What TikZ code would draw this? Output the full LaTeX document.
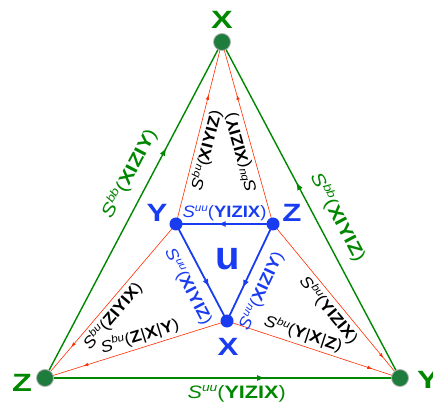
\documentclass[tikz,border=0pt]{standalone}
\usepackage{graphicx}
\usepackage{fontspec}
\setmainfont{Liberation Sans}
\usetikzlibrary{arrows.meta,decorations.markings}
\definecolor{ggreen}{RGB}{0,135,0}
\definecolor{dgreen}{RGB}{30,125,60}
\definecolor{bblue}{RGB}{25,60,240}
\definecolor{rred}{RGB}{255,45,0}
% #1 stretch, #2 size, #3 sup size, #4 sup, #5 body
\newcommand\Slab[5]{\scalebox{#1}[1]{\fontsize{#2}{#2}\selectfont\itshape S\raisebox{0.36em}{\fontsize{#3}{#3}\selectfont #4}\upshape(\textbf{#5})}}
\newcommand\Glab[2]{\Slab{1.2}{18}{11.5}{#1}{#2}}
\newcommand\Blab[2]{\Slab{1.12}{16.5}{10.5}{#1}{#2}}
\newcommand\Klab[2]{\Slab{1.12}{16}{10.5}{#1}{#2}}
\newcommand\Bar{\textmd{|}}
\tikzset{
  gline/.style={ggreen, line width=1.4pt},
  bline/.style={bblue, line width=1.8pt},
  rline/.style={rred, line width=0.6pt},
  garrow/.style={postaction={decorate,decoration={markings,mark=at position #1 with {\arrow{Latex[length=8pt,width=6pt]}}}}},
  barrow/.style={postaction={decorate,decoration={markings,mark=at position #1 with {\arrow{Latex[length=8pt,width=6pt]}}}}},
  rarrow/.style={postaction={decorate,decoration={markings,mark=at position #1 with {\arrow{Latex[length=5pt,width=3.5pt]}}}}},
  lab/.style={inner sep=2pt},
  vlab/.style={inner sep=0pt, font=\fontsize{25}{25}\selectfont\bfseries},
  gdot/.style={circle, fill=dgreen, draw=black!30, line width=0.8pt, minimum size=17pt, inner sep=0pt},
  bdot/.style={circle, fill=bblue, minimum size=13pt, inner sep=0pt},
}
\begin{document}
\begin{tikzpicture}[x=1pt,y=-1pt]
\useasboundingbox (0,0) rectangle (433,411);
\coordinate (oX) at (222,42);
\coordinate (oZ) at (45,378);
\coordinate (oY) at (400,378);
\coordinate (iY) at (176,224);
\coordinate (iZ) at (273,224);
\coordinate (iX) at (227,321);
% green outer triangle
\draw[gline, garrow=0.685] (oZ) -- (oX);
\draw[gline, garrow=0.583] (oY) -- (oX);
\draw[gline, garrow=0.62] (oZ) -- (oY);
% red connectors
\draw[rline, rarrow=0.71] (iY) -- (oX);
\draw[rline, rarrow=0.71] (iZ) -- (oX);
\draw[rline, rarrow=0.8] (iY) -- (oZ);
\draw[rline, rarrow=0.79] (iX) -- (oZ);
\draw[rline, rarrow=0.87] (iZ) -- (oY);
\draw[rline, rarrow=0.84] (iX) -- (oY);
% blue inner triangle
\draw[bline, barrow=0.57] (iZ) -- (iY);
\draw[bline, barrow=0.65] (iY) -- (iX);
\draw[bline, barrow=0.66] (iZ) -- (iX);
% dots
\node[gdot] (dX) at (oX) {};
\node[gdot] (dZ) at (oZ) {};
\node[gdot] (dY) at (oY) {};
\node[bdot] (eY) at (iY) {};
\node[bdot] (eZ) at (iZ) {};
\node[bdot] (eX) at (iX) {};
% vertex labels
\node[vlab, ggreen] (tX) at (222,20) {\scalebox{1.3}[1]{X}};
\node[vlab, ggreen] (tZ) at (22,383) {\scalebox{1.3}[1]{Z}};
\node[vlab, ggreen] (tY) at (428,380) {\scalebox{1.3}[1]{Y}};
\node[vlab, bblue] (sY) at (157,213) {\scalebox{1.25}[1]{Y}};
\node[vlab, bblue] (sZ) at (292,213) {\scalebox{1.25}[1]{Z}};
\node[vlab, bblue] (sX) at (228,347) {\scalebox{1.25}[1]{X}};
\node[inner sep=0pt, bblue, font=\fontsize{40}{40}\selectfont\bfseries] (u) at (228,259) {u};
% green labels
\path (oZ) -- (oX) node[lab, ggreen, pos=0.58, sloped, above=9pt] (l1) {\Glab{bb}{XIZIY}};
\path (oX) -- (oY) node[lab, ggreen, pos=0.55, sloped, above=9pt] (l2) {\Glab{bb}{XIYIZ}};
\path (oZ) -- (oY) node[lab, ggreen, pos=0.54, below=5pt] (l3) {\Glab{uu}{YIZIX}};
% blue labels
\path (iY) -- (iZ) node[lab, bblue, pos=0.5, above=1pt] (l4) {\Blab{uu}{YIZIX}};
\path (iY) -- (iX) node[lab, bblue, pos=0.56, sloped, below=9pt] (l5) {\Blab{uu}{XIYIZ}};
\path (iX) -- (iZ) node[lab, bblue, pos=0.39, sloped, below=9pt] (l6) {\Blab{uu}{XIZIY}};
% black labels
\path (iY) -- (oX) node[lab, pos=0.42, sloped, below=1pt] (l7) {\Klab{bu}{XIYIZ}};
\path (iZ) -- (oX) node[lab, pos=0.41, sloped, above=1pt, allow upside down] (l8) {\Klab{bu}{XIZIY}};
\path (oZ) -- (iY) node[lab, pos=0.45, sloped, below=1pt] (l9) {\Klab{bu}{ZIYIX}};
\path (oZ) -- (iX) node[lab, pos=0.54, sloped, above=1pt] (l10) {\Klab{bu}{Z\Bar X\Bar Y}};
\path (iZ) -- (oY) node[lab, pos=0.51, sloped, below=1pt] (l11) {\Klab{bu}{YIZIX}};
\path (iX) -- (oY) node[lab, pos=0.42, sloped, above=1pt] (l12) {\Klab{bu}{Y\Bar X\Bar Z}};
\end{tikzpicture}
\end{document}
